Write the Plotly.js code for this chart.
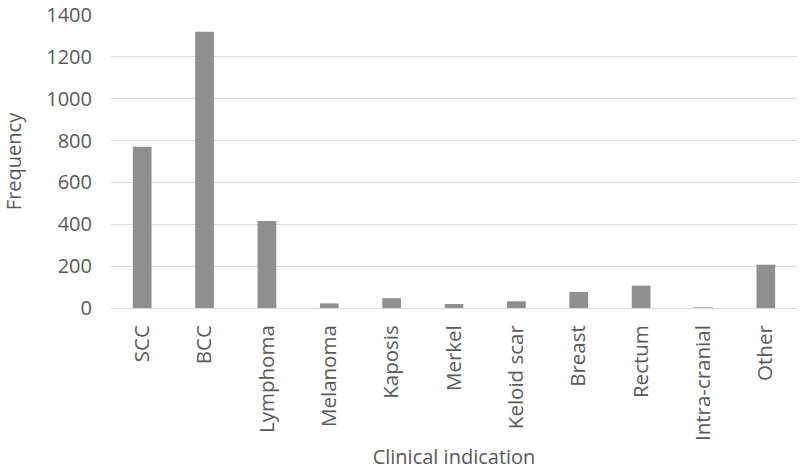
<!DOCTYPE html>
<html><head><meta charset="utf-8">
<script src="https://cdn.plot.ly/plotly-3.0.1.min.js"></script>
<style>html,body{margin:0;padding:0;background:#fff;}#c{width:800px;height:470px;}</style>
</head><body><div id="c"></div>
<script>
var categories = ["SCC","BCC","Lymphoma","Melanoma","Kaposis","Merkel","Keloid scar","Breast","Rectum","Intra-cranial","Other"];
var frequency = [771,1320,416,22,47,19,32,77,107,3,207];
var yTicks = [0,200,400,600,800,1000,1200,1400];

Plotly.newPlot('c', [{
  type:'bar', x:categories, y:frequency,
  marker:{color:'#8f8f8f'}, width:0.3, hoverinfo:'x+y'
}], {
  width:800, height:470,
  margin:{l:111,r:3,t:15,b:162},
  paper_bgcolor:'#fff', plot_bgcolor:'#fff',
  font:{family:'"Open Sans", sans-serif', color:'#595959', size:20},
  xaxis:{tickangle:-90, showline:true, linecolor:'#d9d9d9', linewidth:1, ticks:'', automargin:false,
    ticklabelstandoff:8,
    tickfont:{size:20.5,color:'#595959'},
    title:{text:'Clinical indication', font:{family:'"Open Sans", sans-serif', size:20, color:'#595959'}, standoff:18}},
  yaxis:{range:[0,1400], autorange:false, tickmode:'array', tickvals:yTicks, ticktext:yTicks.map(String),
    showgrid:true, gridcolor:'#d9d9d9', gridwidth:1, automargin:false, ticklabeloverflow:'allow',
    zeroline:false, showline:false, ticks:'', tickfont:{size:20,color:'#595959'}, ticklabelstandoff:18,
    title:{text:'Frequency', font:{family:'"Open Sans", sans-serif', size:20, color:'#595959'}, standoff:20}},
  showlegend:false
}, {displayModeBar:false, staticPlot:true});
</script></body></html>
